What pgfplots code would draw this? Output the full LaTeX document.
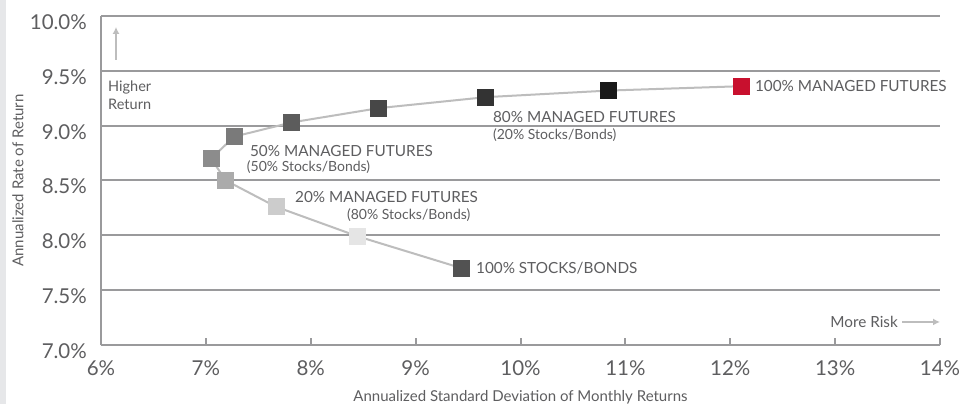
\documentclass[border=0pt]{standalone}
\usepackage{fontspec}
\setmainfont{Lato}
\usepackage{pgfplots}
\pgfplotsset{compat=1.18}
\usetikzlibrary{arrows.meta}
\definecolor{strip}{HTML}{E6E7E9}
\definecolor{gridc}{HTML}{9A9A9C}
\definecolor{txt}{HTML}{5E5E60}
\definecolor{curve}{HTML}{BDBDBD}
\definecolor{mfred}{HTML}{C8102E}
\begin{document}
\begin{tikzpicture}[x=1pt,y=1pt]
\useasboundingbox (0,0) rectangle (968,404);
\fill[white] (0,0) rectangle (968,404);
\fill[strip] (0,0) rectangle (6,404);
\begin{axis}[
  at={(101pt,59pt)}, anchor=south west,
  scale only axis, width=839pt, height=329pt,
  xmin=6, xmax=14, ymin=7, ymax=10,
  axis x line=bottom, axis y line=left,
  axis line style={-, draw=gridc, line width=2pt},
  xtick={6,7,...,14}, ytick={7,7.5,...,10},
  ymajorgrids, grid style={draw=gridc, line width=2pt},
  tick align=inside,
  xtick style={draw=gridc, line width=2pt},
  major tick length=7pt,
  ytick style={draw=none},
  /pgf/number format/assume math mode=true,
  xticklabel={\pgfmathprintnumber[fixed,precision=0]{\tick}\%},
  yticklabel={\pgfmathprintnumber[fixed,fixed zerofill,precision=1]{\tick}\%},
  ticklabel style={font=\fontsize{20.5}{22}\selectfont, text=txt, inner sep=0pt},
  xticklabel style={anchor=north, yshift=-15pt},
  yticklabel style={anchor=east, xshift=-14pt, yshift=-6pt},
  xlabel={Annualized Standard Deviation of Monthly Returns},
  ylabel={Annualized Rate of Return},
  label style={font=\fontsize{15}{17}\selectfont, text=txt, inner sep=0pt},
  xlabel style={at={(axis description cs:0.5,0)}, anchor=center, yshift=-52pt},
  ylabel style={at={(axis description cs:-0.0989,0.5)}, anchor=center, rotate=0},
  clip=false,
]
\addplot[curve, line width=2pt, no marks] coordinates {
 (9.44,7.70) (8.45,7.99) (7.67,8.26) (7.19,8.50) (7.05,8.70) (7.27,8.90)
 (7.82,9.03) (8.65,9.16) (9.67,9.26) (10.84,9.32) (12.11,9.36)};
\pgfplotsset{sq/.style={only marks, color=#1, mark=square*, mark size=8pt, mark options={draw=#1, fill=#1, line width=0pt}}}
\addplot[sq={black!68}] coordinates {(9.44,7.70)};
\addplot[sq={black!10}] coordinates {(8.45,7.99)};
\addplot[sq={black!20}] coordinates {(7.67,8.26)};
\addplot[sq={black!33}] coordinates {(7.19,8.50)};
\addplot[sq={black!45}] coordinates {(7.05,8.70)};
\addplot[sq={black!52}] coordinates {(7.27,8.90)};
\addplot[sq={black!64}] coordinates {(7.82,9.03)};
\addplot[sq={black!72}] coordinates {(8.65,9.16)};
\addplot[sq={black!80}] coordinates {(9.67,9.26)};
\addplot[sq={black!90}] coordinates {(10.84,9.32)};
\addplot[sq={mfred}] coordinates {(12.11,9.36)};
\begin{scope}[every node/.style={text=txt, inner sep=0pt, anchor=west}]
\node[font=\fontsize{15.3}{17}\selectfont] at (axis cs:12.235,9.36) {100\% MANAGED FUTURES};
\node[font=\fontsize{15.3}{17}\selectfont] at (axis cs:9.737,9.08) {80\% MANAGED FUTURES};
\node[font=\fontsize{14}{16}\selectfont] at (axis cs:9.737,8.914) {(20\% Stocks/Bonds)};
\node[font=\fontsize{15.3}{17}\selectfont] at (axis cs:7.42,8.77) {50\% MANAGED FUTURES};
\node[font=\fontsize{14}{16}\selectfont] at (axis cs:7.39,8.62) {(50\% Stocks/Bonds)};
\node[font=\fontsize{15.3}{17}\selectfont] at (axis cs:7.85,8.35) {20\% MANAGED FUTURES};
\node[font=\fontsize{14}{16}\selectfont] at (axis cs:8.345,8.185) {(80\% Stocks/Bonds)};
\node[font=\fontsize{15.3}{17}\selectfont] at (axis cs:9.575,7.70) {100\% STOCKS/BONDS};
\node[font=\fontsize{14.5}{16}\selectfont] at (axis cs:6.067,9.35) {Higher};
\node[font=\fontsize{14.5}{16}\selectfont] at (axis cs:6.067,9.19) {Return};
\node[font=\fontsize{15.3}{17}\selectfont, anchor=east] at (axis cs:13.60,7.21) {More Risk};
\end{scope}
\draw[curve, line width=2pt, -{Latex[length=7pt,width=7pt]}] (axis cs:6.143,9.60) -- (axis cs:6.143,9.90);
\draw[curve, line width=2pt, -{Latex[length=7pt,width=7pt]}] (axis cs:13.64,7.21) -- (axis cs:14.0,7.21);
\end{axis}
\end{tikzpicture}
\end{document}
